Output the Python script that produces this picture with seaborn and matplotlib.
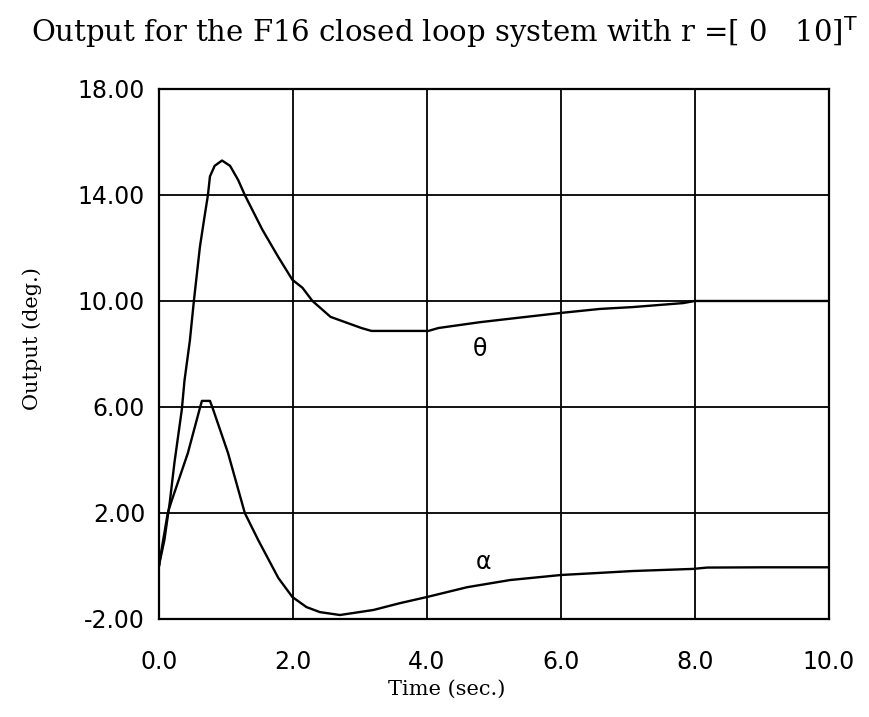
import matplotlib
matplotlib.use("Agg")
import matplotlib.pyplot as plt
import seaborn as sns
import pandas as pd

# Valores
theta_t = [0, 0.01, 0.08, 0.16, 0.23, 0.34, 0.38, 0.46, 0.52, 0.61, 0.68, 0.73, 0.76,
           0.83, 0.94, 1.06, 1.18, 1.28, 1.54, 1.78, 1.99, 2.14, 2.29, 2.56, 3.02, 3.17,
           4.02, 4.17, 4.79, 5.34, 6.0, 6.58, 7.07, 7.82, 8.0, 9.0, 10.0]
theta_y = [0, 0.15, 0.98, 2.4, 3.9, 5.9, 7.0, 8.5, 10.0, 12.04, 13.2, 14.0, 14.7,
           15.1, 15.3, 15.1, 14.57, 14.0, 12.7, 11.66, 10.8, 10.5, 10.0, 9.4, 8.98, 8.87,
           8.87, 8.98, 9.2, 9.36, 9.55, 9.7, 9.77, 9.92, 10.0, 10.0, 10.0]

alpha_t = [0, 0.01, 0.13, 0.18, 0.43, 0.61, 0.64, 0.76, 0.8, 1.03, 1.28, 1.48, 1.78,
           1.99, 2.2, 2.4, 2.7, 3.2, 3.6, 4.0, 4.6, 5.24, 6.0, 6.58, 7.07, 7.97, 8.18,
           9.0, 10.0]
alpha_y = [0, 0.2, 2.0, 2.4, 4.26, 5.96, 6.23, 6.23, 5.96, 4.26, 2.0, 0.98, -0.45,
           -1.17, -1.55, -1.74, -1.85, -1.66, -1.4, -1.17, -0.8, -0.53, -0.34, -0.26,
           -0.19, -0.11, -0.06, -0.05, -0.05]

x_ticks = [0, 2, 4, 6, 8, 10]
y_ticks = [-2, 2, 6, 10, 14, 18]

TITULO = r"Output for the F16 closed loop system with r =[ 0   10]$^{\mathrm{T}}$"

sns.set_style("white")
plt.rcParams['mathtext.default'] = 'regular'
plt.rcParams['text.color'] = 'black'
plt.rcParams['axes.labelcolor'] = 'black'

df_theta = pd.DataFrame({'t': theta_t, 'y': theta_y})
df_alpha = pd.DataFrame({'t': alpha_t, 'y': alpha_y})

fig = plt.figure(figsize=(8.7, 7.17), dpi=100)
ax = fig.add_axes([0.1828, 0.1367, 0.7701, 0.7392])

sns.lineplot(data=df_theta, x='t', y='y', ax=ax, color='black', lw=1.7, estimator=None)
sns.lineplot(data=df_alpha, x='t', y='y', ax=ax, color='black', lw=1.7, estimator=None)

ax.set_xlim(0, 10)
ax.set_ylim(-2, 18)
ax.set_xticks(x_ticks)
ax.set_yticks(y_ticks)
ax.set_xticklabels([f"{v:.1f}" for v in x_ticks])
ax.set_yticklabels([f"{v:.2f}" for v in y_ticks])
ax.tick_params(axis='both', length=0, labelsize=17, colors='black')
ax.tick_params(axis='x', pad=22)
ax.tick_params(axis='y', pad=10)
ax.grid(True, color='black', lw=1.3)
for s in ax.spines.values():
    s.set_color('black')
    s.set_linewidth(1.6)

ax.set_xlabel('Time (sec.)', family='DejaVu Serif', fontsize=15)
ax.xaxis.set_label_coords(0.43, -0.115)
ax.set_ylabel('Output (deg.)', family='DejaVu Serif', fontsize=15)
ax.yaxis.set_label_coords(-0.175, 0.53)

ax.text(4.79, 8.2, 'θ', fontsize=17, ha='center', va='center')
ax.text(4.84, 0.15, 'α', fontsize=17, ha='center', va='center')

fig.text(0.511, 0.955, TITULO, family='DejaVu Serif', fontsize=21,
         ha='center', va='center')

fig.savefig("out.png", dpi=100, facecolor='white')
